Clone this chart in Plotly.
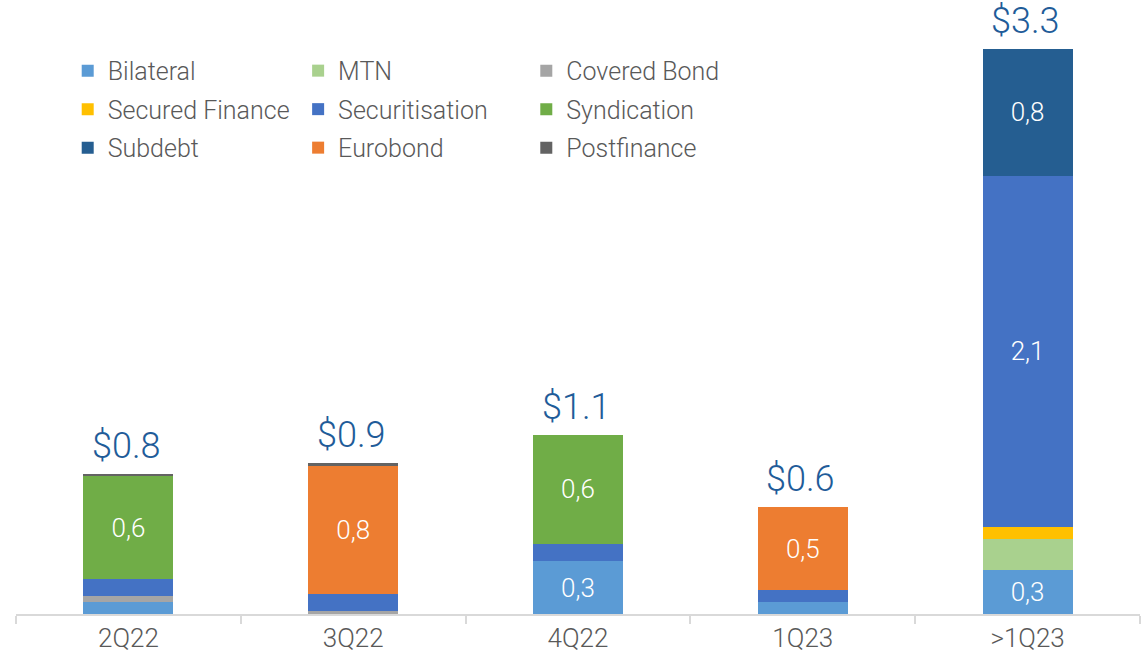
import plotly.graph_objects as go

# Quarterly funding issuance by instrument (USD bn)
quarters = ["2Q22", "3Q22", "4Q22", "1Q23", ">1Q23"]

bilateral       = [0.07, 0.00, 0.31, 0.07, 0.26]
mtn             = [0.00, 0.00, 0.00, 0.00, 0.18]
covered_bond    = [0.033, 0.02, 0.00, 0.00, 0.00]
secured_finance = [0.00, 0.00, 0.00, 0.00, 0.074]
securitisation  = [0.10, 0.10, 0.10, 0.07, 2.06]
syndication     = [0.61, 0.00, 0.645, 0.00, 0.00]
subdebt         = [0.00, 0.00, 0.00, 0.00, 0.75]
eurobond        = [0.00, 0.75, 0.00, 0.49, 0.00]
postfinance     = [0.008, 0.016, 0.00, 0.00, 0.00]

series = [
    ("Bilateral", bilateral, "#5B9BD5", "legend"),
    ("MTN", mtn, "#A9D18E", "legend2"),
    ("Covered Bond", covered_bond, "#A5A5A5", "legend3"),
    ("Secured Finance", secured_finance, "#FFC000", "legend"),
    ("Securitisation", securitisation, "#4472C4", "legend2"),
    ("Syndication", syndication, "#70AD47", "legend3"),
    ("Subdebt", subdebt, "#255E91", "legend"),
    ("Eurobond", eurobond, "#ED7D31", "legend2"),
    ("Postfinance", postfinance, "#636363", "legend3"),
]

FONT = "Roboto"
LABEL_MIN = 0.2  # segments smaller than this stay unlabelled

fig = go.Figure()
for name, vals, color, leg in series:
    texts = [f"{v:.1f}".replace(".", ",") if v >= LABEL_MIN else "" for v in vals]
    fig.add_trace(go.Bar(
        name=name,
        x=quarters,
        y=vals,
        marker=dict(color=color, line=dict(width=0)),
        text=texts,
        textposition="inside",
        insidetextanchor="middle",
        textangle=0,
        constraintext="none",
        textfont=dict(family=FONT, size=26, color="white", weight=300),
        legend=leg,
        legendgroup=name,
    ))

# Totals above each stack
totals = [sum(s[1][i] for s in series) for i in range(len(quarters))]
for q, t in zip(quarters, totals):
    fig.add_annotation(
        x=q, y=t, text=f"${t:.1f}", showarrow=False,
        yanchor="bottom", yshift=5, xshift=-2,
        font=dict(family=FONT, size=36, color="#1F5C99", weight=300),
    )

legend_common = dict(
    orientation="v",
    yanchor="top",
    xanchor="left",
    bgcolor="rgba(0,0,0,0)",
    font=dict(family=FONT, size=25, color="#595959", weight=300),
    tracegroupgap=3,
    itemwidth=30,
    itemclick=False,
)

fig.update_layout(
    width=1142,
    height=658,
    barmode="stack",
    bargap=0.6,
    plot_bgcolor="white",
    paper_bgcolor="white",
    margin=dict(l=16, r=2, t=0, b=44),
    showlegend=True,
    legend=dict(x=0.046, y=0.922, **legend_common),
    legend2=dict(x=0.251, y=0.922, **legend_common),
    legend3=dict(x=0.454, y=0.922, **legend_common),
    xaxis=dict(
        showline=True,
        linecolor="#D9D9D9",
        linewidth=2,
        ticks="outside",
        tickson="boundaries",
        ticklen=8,
        tickcolor="#D9D9D9",
        tickwidth=2,
        tickfont=dict(family=FONT, size=26, color="#595959", weight=300),
        showgrid=False,
    ),
    yaxis=dict(visible=False, range=[0, 3.61], showgrid=False, zeroline=False),
)

fig.write_html("out.html")
